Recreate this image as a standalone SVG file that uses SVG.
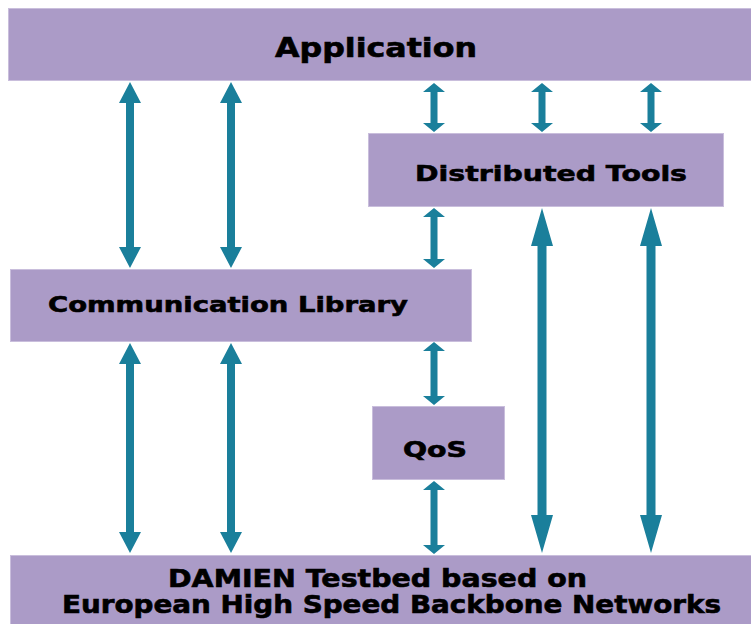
<svg xmlns="http://www.w3.org/2000/svg" width="751" height="624" viewBox="0 0 751 624">
  <style>
    .box { fill: #ab9bc7; stroke: #c9bedc; stroke-width: 1; }
    .lbl { font-family: "DejaVu Sans", "Liberation Sans", sans-serif; font-weight: bold; fill: #000; stroke: #000; stroke-width: 0.6; text-anchor: start; }
    .arrow { fill: #1a7f9b; }
  </style>
  <rect width="751" height="624" fill="#ffffff"/>

  <g id="connectors">
    <!-- Application <-> Communication Library -->
    <path class="arrow" d="M130,82 L141,103 L134,103 L134,247 L141,247 L130,268 L119,247 L126,247 L126,103 L119,103 Z"/>
    <path class="arrow" d="M231,82 L242,103 L235,103 L235,247 L242,247 L231,268 L220,247 L227,247 L227,103 L220,103 Z"/>
    <!-- Application <-> Distributed Tools -->
    <path class="arrow" d="M434,83 L445,92 L437.5,92 L437.5,123 L445,123 L434,132 L423,123 L430.5,123 L430.5,92 L423,92 Z"/>
    <path class="arrow" d="M542,83 L553,92 L545.5,92 L545.5,123 L553,123 L542,132 L531,123 L538.5,123 L538.5,92 L531,92 Z"/>
    <path class="arrow" d="M651,83 L662,92 L654.5,92 L654.5,123 L662,123 L651,132 L640,123 L647.5,123 L647.5,92 L640,92 Z"/>
    <!-- Distributed Tools <-> Communication Library -->
    <path class="arrow" d="M434,208 L445,217 L437.5,217 L437.5,259 L445,259 L434,268 L423,259 L430.5,259 L430.5,217 L423,217 Z"/>
    <!-- Distributed Tools <-> Testbed -->
    <path class="arrow" d="M542,208 L553,246 L546.5,246 L546.5,515 L553,515 L542,553 L531,515 L537.5,515 L537.5,246 L531,246 Z"/>
    <path class="arrow" d="M651,208 L662,246 L655.5,246 L655.5,515 L662,515 L651,553 L640,515 L646.5,515 L646.5,246 L640,246 Z"/>
    <!-- Communication Library <-> Testbed -->
    <path class="arrow" d="M130,343 L141,364 L134,364 L134,532 L141,532 L130,553 L119,532 L126,532 L126,364 L119,364 Z"/>
    <path class="arrow" d="M231,343 L242,364 L235,364 L235,532 L242,532 L231,553 L220,532 L227,532 L227,364 L220,364 Z"/>
    <!-- Communication Library <-> QoS -->
    <path class="arrow" d="M434,342 L445,351 L437.5,351 L437.5,396 L445,396 L434,405 L423,396 L430.5,396 L430.5,351 L423,351 Z"/>
    <!-- QoS <-> Testbed -->
    <path class="arrow" d="M434,481 L445,490 L437.5,490 L437.5,545 L445,545 L434,554 L423,545 L430.5,545 L430.5,490 L423,490 Z"/>
  </g>

  <g id="application">
    <rect class="box" x="8.5" y="8.5" width="743" height="72"/>
    <text class="lbl" x="275" y="57" font-size="27" textLength="202" lengthAdjust="spacingAndGlyphs">Application</text>
  </g>

  <g id="distributed-tools">
    <rect class="box" x="368.5" y="133.5" width="355" height="73"/>
    <text class="lbl" x="415" y="181" font-size="22" textLength="272" lengthAdjust="spacingAndGlyphs">Distributed Tools</text>
  </g>

  <g id="communication-library">
    <rect class="box" x="10.5" y="269.5" width="461" height="72"/>
    <text class="lbl" x="48" y="312" font-size="22" textLength="360" lengthAdjust="spacingAndGlyphs">Communication Library</text>
  </g>

  <g id="qos">
    <rect class="box" x="372.5" y="406.5" width="132" height="73"/>
    <text class="lbl" x="403" y="457" font-size="21" textLength="64" lengthAdjust="spacingAndGlyphs">QoS</text>
  </g>

  <g id="testbed">
    <rect class="box" x="10.5" y="555.5" width="741" height="69"/>
    <text class="lbl" x="168" y="587" font-size="24" textLength="419" lengthAdjust="spacingAndGlyphs">DAMIEN Testbed based on</text>
    <text class="lbl" x="62" y="613" font-size="24" textLength="659" lengthAdjust="spacingAndGlyphs">European High Speed Backbone Networks</text>
  </g>
</svg>
